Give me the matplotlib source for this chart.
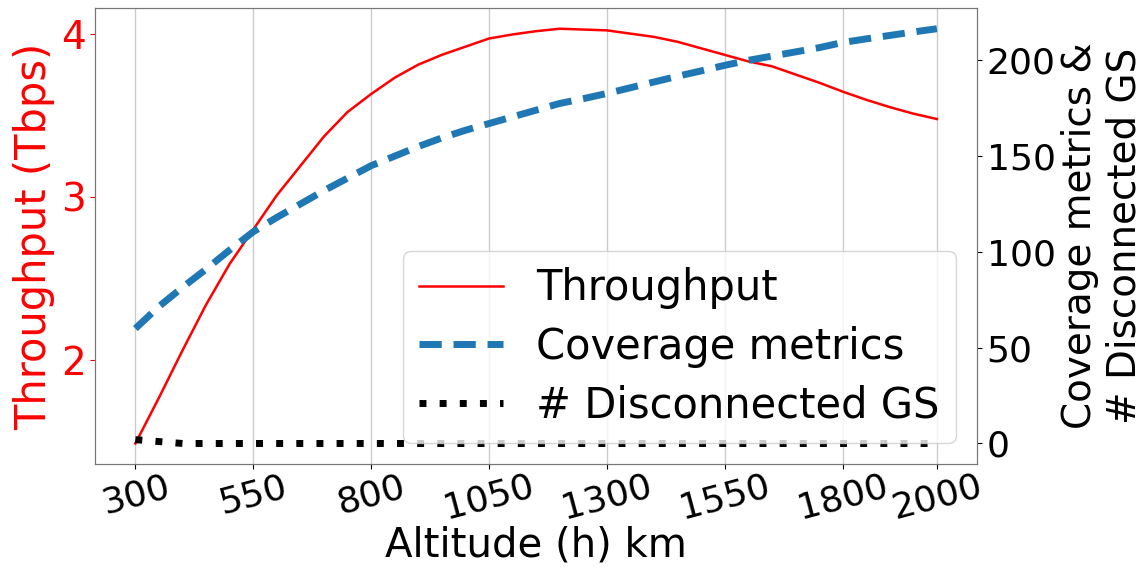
import numpy as np
import matplotlib.pyplot as plt

# altitude sweep (km)
altitude = list(range(300, 2001, 50))

# aggregate throughput (Tbps)
throughput = [1.49, 1.77, 2.06, 2.34, 2.59, 2.80, 3.01, 3.19, 3.37, 3.52,
              3.63, 3.73, 3.81, 3.87, 3.92, 3.97, 3.995, 4.015, 4.03, 4.025,
              4.02, 4.00, 3.98, 3.95, 3.91, 3.87, 3.83, 3.80, 3.75, 3.70,
              3.645, 3.595, 3.55, 3.51, 3.477]

# coverage metric and number of disconnected ground stations
coverage = [60, 71.5, 81.5, 91, 101, 110.5, 118, 125, 132, 138.5,
            145, 150, 155, 159.5, 163.5, 167, 170.5, 174, 177.5, 180,
            182.7, 185.7, 188.7, 191.7, 194.5, 197.4, 200, 202.2, 204.4, 206.6,
            209.3, 211.2, 213, 214.8, 216.5]
disconnected = [2, 1] + [0] * 33

xticks = [300, 550, 800, 1050, 1300, 1550, 1800, 2000]

lab_fs = 29
tick_fs = 26

fig, ax = plt.subplots(figsize=(11.48, 5.71), dpi=100)
fig.subplots_adjust(left=0.083, right=0.851, top=0.986, bottom=0.187)

l1, = ax.plot(altitude, throughput, color='red', lw=1.8, label='Throughput')
ax.set_ylabel('Throughput (Tbps)', color='red', fontsize=30)
ax.tick_params(axis='y', colors='red', labelsize=tick_fs + 2)
ax.set_yticks([2, 3, 4])
ax.set_xticks(xticks)
ax.set_xticklabels([str(x) for x in xticks], rotation=15, fontsize=tick_fs)
ax.tick_params(axis='x', pad=0)
ax.set_xlabel('Altitude (h) km', fontsize=lab_fs, labelpad=0)
ax.grid(axis='x', color='#cccccc', lw=1)

ax2 = ax.twinx()
l2, = ax2.plot(altitude, coverage, color='#1f77b4', lw=5, ls=(0, (3.2, 1.7)),
               label='Coverage metrics')
l3, = ax2.plot(altitude, disconnected, color='black', lw=5, ls=(0, (1, 1.9)),
               label='# Disconnected GS')
ax2.set_ylabel('Coverage metrics &\n# Disconnected GS', fontsize=28)
ax2.set_yticks([0, 50, 100, 150, 200])
ax2.tick_params(axis='y', labelsize=tick_fs)

for a in (ax, ax2):
    for s in a.spines.values():
        s.set_color('#777777')

ax2.legend(handles=[l1, l2, l3], loc='lower right', fontsize=30,
           labelspacing=0.4)

fig.savefig('out.png', dpi=100)
